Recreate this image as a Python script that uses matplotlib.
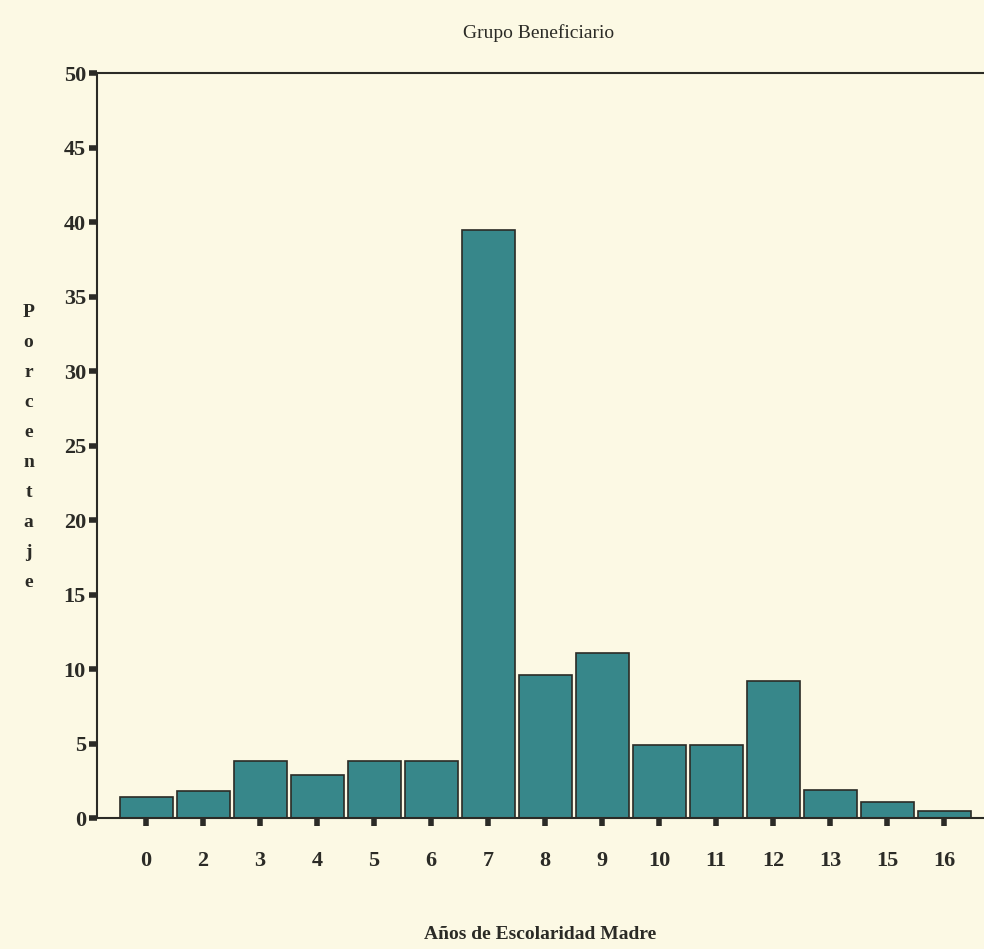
import matplotlib.pyplot as plt
import numpy as np

# data
years = ['0', '2', '3', '4', '5', '6', '7', '8', '9', '10', '11', '12', '13', '15', '16']
percent = [1.4, 1.8, 3.8, 2.9, 3.8, 3.8, 39.5, 9.6, 11.1, 4.9, 4.9, 9.2, 1.9, 1.1, 0.5]
y_ticks = [0, 5, 10, 15, 20, 25, 30, 35, 40, 45, 50]

bg = '#fcf9e4'
bar_color = '#37878a'
ink = '#2b2b26'

plt.rcParams['font.family'] = ['Liberation Serif', 'DejaVu Serif']

fig = plt.figure(figsize=(9.84, 9.49), dpi=100, facecolor=bg)
ax = fig.add_axes([0.0986, 0.138, 0.9014, 0.785], facecolor=bg)

x = np.arange(len(years))
ax.bar(x, percent, width=0.93, color=bar_color, edgecolor=ink, linewidth=1.2)

ax.set_xlim(-0.86, 14.7)
ax.set_ylim(0, 50)
ax.set_yticks(y_ticks)
ax.set_xticks(x)
ax.set_xticklabels(years)

for s in ['left', 'top', 'bottom']:
    ax.spines[s].set_color(ink)
    ax.spines[s].set_linewidth(1.5)
ax.spines['right'].set_visible(False)

ax.tick_params(axis='both', colors=ink, length=6, width=4, direction='out',
               labelsize=16)
ax.tick_params(axis='x', pad=18)
ax.tick_params(axis='y', pad=2)
for lab in ax.get_xticklabels() + ax.get_yticklabels():
    lab.set_fontweight('bold')
    lab.set_color(ink)

fig.text(0.547, 0.965, 'Grupo Beneficiario', ha='center', va='center',
         fontsize=14, color=ink)
fig.text(0.549, 0.015, 'Años de Escolaridad Madre', ha='center', va='center',
         fontsize=14, fontweight='bold', color=ink)
fig.text(0.029, 0.528, '\n'.join('Porcentaje'), ha='center', va='center',
         fontsize=14, fontweight='bold', color=ink, linespacing=2.0)

fig.savefig('out.png', dpi=100, facecolor=bg)
